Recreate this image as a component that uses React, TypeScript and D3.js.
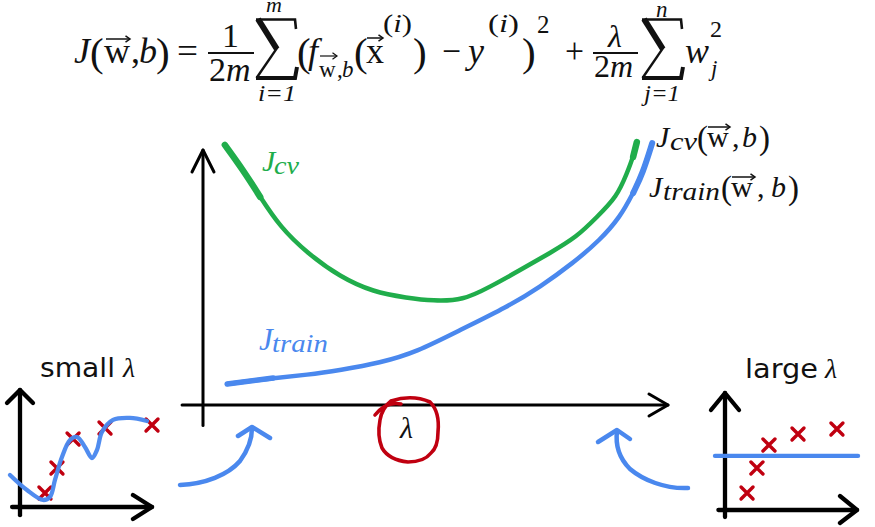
import React from 'react';
import * as d3 from 'd3';

// ---- main chart data (lambda vs cost, arbitrary units) ----
const cvLambda = [0.47, 0.86, 1.23, 1.66, 2.24, 2.95, 3.66, 4.39, 4.95, 5.59, 6.17, 6.82, 7.46, 8.04, 8.47, 8.9, 9.12, 9.25, 9.33];
const cvCost = [10.2, 9.22, 8.16, 6.98, 5.96, 5.02, 4.43, 4.2, 4.08, 4.1, 4.63, 5.29, 5.96, 6.59, 7.37, 8.16, 9.1, 9.73, 10.31];
const trainLambda = [0.52, 1.51, 2.24, 2.95, 3.81, 4.6, 5.53, 6.54, 7.25, 7.96, 8.54, 8.97, 9.25, 9.46, 9.66];
const trainCost = [0.82, 1.06, 1.18, 1.37, 1.65, 2.08, 2.94, 3.84, 4.63, 5.57, 6.47, 7.37, 8.31, 9.1, 10.27];

// ---- small lambda inset (overfit) ----
const smallFitX = [-0.76, 0.53, 1.74, 2.27, 2.65, 3.18, 3.79, 4.32, 4.92, 5.45, 5.83, 6.21, 7.05, 8.33, 9.62];
const smallFitY = [2.74, 1.45, 0.6, 0.85, 2.31, 4.27, 5.73, 5.98, 5.13, 4.19, 4.87, 6.41, 7.44, 7.61, 7.35];
const smallDataX = [1.89, 2.8, 4.02, 6.44, 10.0];
const smallDataY = [1.2, 3.33, 5.81, 6.75, 7.01];

// ---- large lambda inset (underfit) ----
const largeFitLevel = 4.62;
const largeFitRange = [-0.76, 10.08];
const largeDataX = [1.67, 2.42, 3.33, 5.53, 8.48];
const largeDataY = [1.45, 3.59, 5.56, 6.5, 6.92];

const GREEN = '#20ad4b';
const BLUE = '#4a88ee';
const RED = '#c00010';
const MATH = "'Liberation Serif', 'DejaVu Serif', serif";
const SANS = "'DejaVu Sans', Verdana, sans-serif";

type TP = { x: number; y: number; s: number; it?: boolean; w?: number; fill?: string; fam?: string; children: React.ReactNode };
const T = ({ x, y, s, it, w, fill = '#111', fam = MATH, children }: TP) => (
  <text x={x} y={y} fontSize={s} fontStyle={it ? 'italic' : 'normal'} fontFamily={fam} fill={fill}
    {...(w ? { textLength: w, lengthAdjust: 'spacingAndGlyphs' } : {})}>{children}</text>
);

// superscript "(i)" with italic i
const Sup = ({ x, y, s, w }: { x: number; y: number; s: number; w: number }) => (
  <text x={x} y={y} fontSize={s} fontFamily={MATH} fill="#111" textLength={w} lengthAdjust="spacingAndGlyphs">
    (<tspan fontStyle="italic">i</tspan>)
  </text>
);

const Vec = ({ x1, x2, y, sw = 1.5 }: { x1: number; x2: number; y: number; sw?: number }) => (
  <g stroke="#111" strokeWidth={sw} fill="none">
    <line x1={x1} y1={y} x2={x2} y2={y} />
    <path d={`M${x2 - 4.5},${y - 3.2} L${x2},${y} L${x2 - 4.5},${y + 3.2}`} />
  </g>
);

const Sigma = ({ x0, y0, w, h }: { x0: number; y0: number; w: number; h: number }) => (
  <g stroke="#111" fill="none" strokeLinecap="butt" strokeLinejoin="miter">
    <path d={`M${x0 + w - 1},${y0 + 11} L${x0 + w - 2},${y0 + 1.5} L${x0 + 1},${y0 + 1.5}`} strokeWidth={2.6} />
    <path d={`M${x0 + 3},${y0 + 1} L${x0 + w * 0.52},${y0 + h * 0.5}`} strokeWidth={6} />
    <path d={`M${x0 + w * 0.54},${y0 + h * 0.47} L${x0 + 1.5},${y0 + h - 2}`} strokeWidth={2.4} />
    <path d={`M${x0 + 1},${y0 + h - 2} L${x0 + w - 2},${y0 + h - 2} L${x0 + w},${y0 + h - 13}`} strokeWidth={4} />
  </g>
);

const XMark = ({ cx, cy }: { cx: number; cy: number }) => (
  <path d={`M${cx - 6},${cy - 6} L${cx + 6},${cy + 6} M${cx + 6},${cy - 6} L${cx - 6},${cy + 6}`}
    stroke={RED} strokeWidth={3.4} strokeLinecap="round" />
);

const Formula = () => {
  const B = 63;
  const S = 36;
  const P = 41;
  return (
    <g>
      <T x={74} y={B} s={S} it>J</T>
      <T x={90} y={B + 3} s={P}>(</T>
      <T x={104} y={B} s={S}>w</T>
      <Vec x1={106} x2={130} y={39} />
      <T x={131} y={B} s={S}>,</T>
      <T x={139} y={B} s={S} it>b</T>
      <T x={156} y={B + 3} s={P}>)</T>
      <T x={177} y={B} s={S} w={21}>=</T>
      <T x={222} y={47} s={34}>1</T>
      <line x1={208} x2={254} y1={53} y2={53} stroke="#111" strokeWidth={1.9} />
      <T x={209} y={81} s={34}>2</T>
      <T x={226} y={81} s={34} it>m</T>
      <Sigma x0={255} y0={18} w={42} h={62} />
      <T x={266} y={12} s={22} it>m</T>
      <T x={258} y={101} s={23} it w={38}>i=1</T>
      <T x={297} y={B + 3} s={P}>(</T>
      <T x={308} y={B} s={S} it>f</T>
      <T x={319} y={77} s={23}>w</T>
      <Vec x1={320} x2={337} y={56} sw={1.2} />
      <T x={337} y={77} s={23}>,</T>
      <T x={342} y={77} s={23} it>b</T>
      <T x={354} y={B + 3} s={P}>(</T>
      <T x={366} y={B} s={S}>x</T>
      <Vec x1={367} x2={383} y={38} />
      <Sup x={383} y={32} s={26} w={29} />
      <T x={413} y={B + 3} s={P}>)</T>
      <T x={442} y={B} s={S} w={19}>−</T>
      <T x={468} y={B} s={S} it>y</T>
      <Sup x={488} y={32} s={26} w={31} />
      <T x={522} y={B + 3} s={P}>)</T>
      <T x={537} y={33} s={25}>2</T>
      <T x={565} y={B} s={S} w={19}>+</T>
      <T x={608} y={47} s={32} it>λ</T>
      <line x1={593} x2={638} y1={53} y2={53} stroke="#111" strokeWidth={1.9} />
      <T x={594} y={77} s={32}>2</T>
      <T x={610} y={77} s={32} it>m</T>
      <Sigma x0={641} y0={18} w={42} h={62} />
      <T x={656} y={17} s={23} it>n</T>
      <T x={644} y={101} s={23} it w={36}>j=1</T>
      <T x={685} y={B} s={S} it>w</T>
      <T x={711} y={76} s={23} it>j</T>
      <T x={710} y={37} s={24}>2</T>
    </g>
  );
};

export default function App() {
  const x = d3.scaleLinear().domain([0, 10]).range([203, 668]);
  const y = d3.scaleLinear().domain([0, 10]).range([405, 150]);
  const line = d3.line<[number, number]>().x(d => x(d[0])).y(d => y(d[1])).curve(d3.curveBasis);
  const cvPts = cvLambda.map((l, i) => [l, cvCost[i]] as [number, number]);
  const trPts = trainLambda.map((l, i) => [l, trainCost[i]] as [number, number]);

  const sx = d3.scaleLinear().domain([0, 10]).range([20, 152]);
  const sy = d3.scaleLinear().domain([0, 10]).range([507, 390]);
  const sLine = d3.line<[number, number]>().x(d => sx(d[0])).y(d => sy(d[1])).curve(d3.curveCatmullRom.alpha(0.5));
  const sFit = smallFitX.map((v, i) => [v, smallFitY[i]] as [number, number]);

  const lx = d3.scaleLinear().domain([0, 10]).range([725, 857]);
  const ly = d3.scaleLinear().domain([0, 10]).range([510, 393]);

  const ax = { stroke: '#000', fill: 'none', strokeLinecap: 'round' as const, strokeLinejoin: 'round' as const };

  return (
    <svg width={875} height={527} style={{ position: 'absolute', left: 0, top: 0, background: '#fff' }}>
      <rect width={875} height={527} fill="#fff" />
      <Formula />

      {/* main axes */}
      <g {...ax} strokeWidth={3}>
        <line x1={x(-0.45)} x2={x(10)} y1={y(0)} y2={y(0)} />
        <line x1={x(0)} x2={x(0)} y1={y(-0.8)} y2={y(10)} />
        <path d={`M${x(10) - 19},${y(0) - 11} L${x(10)},${y(0)} L${x(10) - 19},${y(0) + 11}`} />
        <path d={`M${x(0) - 11},${y(10) + 22} L${x(0)},${y(10)} L${x(0) + 11},${y(10) + 22}`} />
      </g>

      {/* curves */}
      <path d={line(cvPts) || ''} stroke={GREEN} strokeWidth={4.5} fill="none" strokeLinecap="round" />
      <path d={line(cvPts.slice(0, 3)) || ''} stroke={GREEN} strokeWidth={6.5} fill="none" strokeLinecap="round" />
      <path d={line(cvPts.slice(-2)) || ''} stroke={GREEN} strokeWidth={6.5} fill="none" strokeLinecap="round" />
      <path d={line(trPts) || ''} stroke={BLUE} strokeWidth={4.5} fill="none" strokeLinecap="round" />
      <path d={line(trPts.slice(-3)) || ''} stroke={BLUE} strokeWidth={6} fill="none" strokeLinecap="round" />
      <path d={line(trPts.slice(0, 2)) || ''} stroke={BLUE} strokeWidth={5.5} fill="none" strokeLinecap="round" />

      {/* curve labels */}
      <T x={262} y={171} s={30} it fill={GREEN}>J</T>
      <T x={274} y={174} s={25} it w={25} fill={GREEN}>cv</T>
      <T x={259} y={350} s={31} it fill={BLUE}>J</T>
      <T x={272} y={352} s={26} it w={56} fill={BLUE}>train</T>

      <T x={656} y={147} s={30} it>J</T>
      <T x={670} y={150} s={25} it w={27}>cv</T>
      <T x={697} y={149} s={33}>(</T>
      <T x={707} y={147} s={30}>w</T>
      <Vec x1={708} x2={730} y={127} />
      <T x={732} y={147} s={30}>,</T>
      <T x={742} y={147} s={30} it>b</T>
      <T x={759} y={149} s={33}>)</T>

      <T x={649} y={197} s={30} it>J</T>
      <T x={663} y={200} s={25} it w={57}>train</T>
      <T x={721} y={199} s={33}>(</T>
      <T x={731} y={197} s={30}>w</T>
      <Vec x1={732} x2={755} y={177} />
      <T x={757} y={197} s={30}>,</T>
      <T x={771} y={197} s={30} it>b</T>
      <T x={788} y={199} s={33}>)</T>

      {/* lambda label with red circle */}
      <T x={400} y={438} s={30} it>λ</T>
      <path d="M375,415 Q386,401 401,404 M391,401 Q412,394 430,402 Q440,412 438,432 Q438,447 431,453 Q424,462 408,462 Q389,460 382,448 Q377,436 380,420 Q382,408 391,401"
        stroke={RED} strokeWidth={3.6} fill="none" strokeLinecap="round" strokeLinejoin="round" />

      {/* blue pointer arrows */}
      <g stroke={BLUE} strokeWidth={4.5} fill="none" strokeLinecap="round" strokeLinejoin="round">
        <path d="M180,485 C205,484 228,475 240,461 C248,450 252,440 252,428" />
        <path d="M238,436 L252,427 L270,438" />
        <path d="M688,488 C665,489 643,480 630,469 C620,459 615,447 617,431" />
        <path d="M598,442 L617,430 L630,439" />
      </g>

      {/* small lambda inset */}
      <text x={40} y={377} fontSize={26} fontFamily={SANS} fill="#111" textLength={75} lengthAdjust="spacingAndGlyphs">small</text>
      <T x={123} y={377} s={28} it>λ</T>
      <g {...ax} strokeWidth={4.3}>
        <line x1={sx(0)} x2={sx(0)} y1={sy(-0.7)} y2={sy(10)} />
        <line x1={sx(-0.6)} x2={sx(10)} y1={sy(0)} y2={sy(0)} />
        <path d={`M${sx(0) - 13},${sy(10) + 13} L${sx(0)},${sy(10)} L${sx(0) + 13},${sy(10) + 13}`} />
        <path d={`M${sx(10) - 19},${sy(0) - 12} L${sx(10)},${sy(0)} L${sx(10) - 19},${sy(0) + 12}`} />
      </g>
      {smallDataX.map((v, i) => <XMark key={i} cx={sx(v)} cy={sy(smallDataY[i])} />)}
      <path d={sLine(sFit) || ''} stroke={BLUE} strokeWidth={4.3} fill="none" strokeLinecap="round" opacity={0.97} />

      {/* large lambda inset */}
      <text x={745} y={378} fontSize={26} fontFamily={SANS} fill="#111" textLength={73} lengthAdjust="spacingAndGlyphs">large</text>
      <T x={825} y={378} s={28} it>λ</T>
      <g {...ax} strokeWidth={4.3}>
        <line x1={lx(0)} x2={lx(0)} y1={ly(-0.6)} y2={ly(10)} />
        <line x1={lx(-0.5)} x2={lx(10)} y1={ly(0)} y2={ly(0)} />
        <path d={`M${lx(0) - 14},${ly(10) + 17} L${lx(0)},${ly(10)} L${lx(0) + 14},${ly(10) + 17}`} />
        <path d={`M${lx(10) - 17},${ly(0) - 14} L${lx(10)},${ly(0)} L${lx(10) - 17},${ly(0) + 13}`} />
      </g>
      {largeDataX.map((v, i) => <XMark key={i} cx={lx(v)} cy={ly(largeDataY[i])} />)}
      <line x1={lx(largeFitRange[0])} x2={lx(largeFitRange[1])} y1={ly(largeFitLevel)} y2={ly(largeFitLevel)}
        stroke={BLUE} strokeWidth={4.3} strokeLinecap="round" />
    </svg>
  );
}
